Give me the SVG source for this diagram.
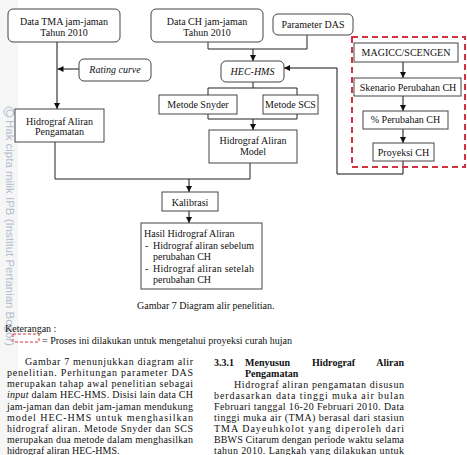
<svg xmlns="http://www.w3.org/2000/svg" width="467" height="455" viewBox="0 0 467 455">
<defs>
<marker id="arr" viewBox="0 0 6 6" refX="6" refY="3" markerWidth="6" markerHeight="6" markerUnits="userSpaceOnUse" orient="auto"><path d="M0,0 L6,3 L0,6 z" fill="#111"/></marker>
<style>
.box{fill:#fff;stroke:#444;stroke-width:1}
.t{font-family:"Liberation Serif","Times New Roman",serif;font-size:10px;fill:#111}
.c{text-anchor:middle}
.i{font-style:italic}
.b{font-weight:bold}
.ln{fill:none;stroke:#222;stroke-width:1}
.ar{fill:none;stroke:#111;stroke-width:1;marker-end:url(#arr)}
.red{fill:none;stroke:#d3323f;stroke-width:2;stroke-dasharray:6,4}
.wm{font-family:"Liberation Sans",Arial,sans-serif;font-size:10px;fill:#b3bdd0}
</style>
</defs>
<rect width="467" height="455" fill="#fff"/>
<rect x="0" y="0" width="18" height="455" fill="#f6f6f6"/>
<g id="watermark">
<circle cx="9" cy="112" r="5" fill="none" stroke="#b3bdd0" stroke-width="1"/>
<text class="wm" transform="translate(5.5,109) rotate(90)" font-size="7">C</text>
<text class="wm" transform="translate(5.5,120) rotate(90)" textLength="226" lengthAdjust="spacingAndGlyphs">Hak cipta milik IPB (Institut Pertanian Bogor)</text>
</g>

<g id="connectors">
<line class="ar" x1="57" y1="42" x2="57" y2="109"/>
<line class="ar" x1="79" y1="69" x2="57.5" y2="69"/>
<polyline class="ln" points="208,42 208,49 307,49 307,35"/>
<line class="ar" x1="253" y1="49" x2="253" y2="61"/>
<line class="ln" x1="253" y1="82" x2="253" y2="88"/>
<polyline class="ln" points="208,95 208,88 297,88 297,95"/>
<polyline class="ln" points="208,114 208,119 297,119 297,114"/>
<line class="ar" x1="253" y1="119" x2="253" y2="130"/>
<polyline class="ln" points="250,163 250,179 55,179 55,142"/>
<line class="ar" x1="189" y1="179" x2="189" y2="192"/>
<line class="ar" x1="189" y1="211" x2="189" y2="223"/>
<polyline class="ar" points="403,161 403,174 337,174 337,68 284,68"/>
<line class="ar" x1="403" y1="62" x2="403" y2="78"/>
<line class="ar" x1="403" y1="96" x2="403" y2="111"/>
<line class="ar" x1="403" y1="129" x2="403" y2="143"/>
</g>

<g id="region-proyeksi">
<rect class="red" x="352" y="37" width="113" height="130"/>
</g>

<g id="n-data-tma">
<rect class="box" x="8" y="9" width="112" height="33" rx="5"/>
<text class="t c" x="64" y="24.5">Data TMA jam-jaman</text>
<text class="t c" x="64" y="35.5">Tahun 2010</text>
</g>
<g id="n-rating-curve">
<rect class="box" x="79" y="59" width="72" height="22" rx="5"/>
<text class="t c i" x="115" y="72.5">Rating curve</text>
</g>
<g id="n-hidrograf-pengamatan">
<rect class="box" x="15" y="109" width="89" height="33"/>
<text class="t c" x="59.5" y="124.5">Hidrograf Aliran</text>
<text class="t c" x="59.5" y="135">Pengamatan</text>
</g>
<g id="n-data-ch">
<rect class="box" x="151" y="9" width="112" height="33" rx="5"/>
<text class="t c" x="207" y="24.5">Data CH jam-jaman</text>
<text class="t c" x="207" y="35.5">Tahun 2010</text>
</g>
<g id="n-parameter-das">
<rect class="box" x="273" y="14" width="80" height="21" rx="5"/>
<text class="t c" x="313" y="27.5">Parameter DAS</text>
</g>
<g id="n-hec-hms">
<rect class="box" x="221" y="61" width="63" height="21" rx="5"/>
<text class="t c i" x="252.5" y="75">HEC-HMS</text>
</g>
<g id="n-snyder">
<rect class="box" x="159" y="95" width="78" height="19"/>
<text class="t c" x="198" y="108">Metode Snyder</text>
</g>
<g id="n-scs">
<rect class="box" x="263" y="95" width="55" height="19"/>
<text class="t c" x="290.5" y="108">Metode SCS</text>
</g>
<g id="n-hidrograf-model">
<rect class="box" x="209" y="130" width="88" height="33"/>
<text class="t c" x="253" y="143.5">Hidrograf Aliran</text>
<text class="t c" x="253" y="155">Model</text>
</g>
<g id="n-kalibrasi">
<rect class="box" x="162" y="192" width="56" height="19"/>
<text class="t c" x="190" y="205.5">Kalibrasi</text>
</g>
<g id="n-hasil">
<rect class="box" x="141" y="223" width="121" height="66"/>
<text class="t" x="144" y="237">Hasil Hidrograf Aliran</text>
<text class="t" x="145" y="248.5">-</text>
<text class="t" x="153" y="248.5" textLength="101" lengthAdjust="spacing">Hidrograf aliran sebelum</text>
<text class="t" x="153" y="260">perubahan CH</text>
<text class="t" x="145" y="271.5">-</text>
<text class="t" x="153" y="271.5" textLength="101" lengthAdjust="spacing">Hidrograf aliran setelah</text>
<text class="t" x="153" y="283">perubahan CH</text>
</g>
<g id="n-magicc">
<rect class="box" x="354" y="43" width="104" height="19"/>
<text class="t c" x="406" y="56">MAGICC/SCENGEN</text>
</g>
<g id="n-skenario">
<rect class="box" x="354" y="78" width="107" height="18"/>
<text class="t c" x="408" y="90.5">Skenario Perubahan CH</text>
</g>
<g id="n-persen">
<rect class="box" x="363" y="111" width="85" height="18"/>
<text class="t c" x="405.5" y="123">% Perubahan CH</text>
</g>
<g id="n-proyeksi">
<rect class="box" x="373" y="143" width="61" height="18"/>
<text class="t c" x="403.5" y="156">Proyeksi CH</text>
</g>

<g id="caption">
<text class="t" x="137" y="308.5">Gambar 7 Diagram alir penelitian.</text>
</g>

<g id="legend">
<text class="t" x="5" y="331.5">Keterangan :</text>
<rect x="13" y="334" width="26" height="8" fill="none" stroke="#d3323f" stroke-width="1" stroke-dasharray="3,2"/>
<text class="t" x="42" y="343.5">= Proses ini dilakukan untuk mengetahui proyeksi curah hujan</text>
</g>

<g id="body-left">
<text class="t" x="25" y="365" textLength="168" lengthAdjust="spacing">Gambar 7 menunjukkan diagram alir</text>
<text class="t" x="7" y="376" textLength="186" lengthAdjust="spacing">penelitian. Perhitungan parameter DAS</text>
<text class="t" x="7" y="387" textLength="186" lengthAdjust="spacing">merupakan tahap awal penelitian sebagai</text>
<text class="t" x="7" y="398" textLength="186" lengthAdjust="spacing"><tspan class="i">input</tspan> dalam HEC-HMS. Disisi lain data CH</text>
<text class="t" x="7" y="409.5" textLength="186" lengthAdjust="spacing">jam-jaman dan debit jam-jaman mendukung</text>
<text class="t" x="7" y="420.5" textLength="186" lengthAdjust="spacing">model HEC-HMS untuk menghasilkan</text>
<text class="t" x="7" y="431.5" textLength="186" lengthAdjust="spacing">hidrograf aliran. Metode Snyder dan SCS</text>
<text class="t" x="7" y="442.5" textLength="186" lengthAdjust="spacing">merupakan dua metode dalam menghasilkan</text>
<text class="t" x="7" y="453.5">hidrograf aliran HEC-HMS.</text>
</g>

<g id="body-right">
<text class="t b" x="214" y="366">3.3.1</text>
<text class="t b" x="245" y="366">Menyusun</text>
<text class="t b" x="312" y="366">Hidrograf</text>
<text class="t b" x="404" y="366" text-anchor="end">Aliran</text>
<text class="t b" x="245" y="376.5">Pengamatan</text>
<text class="t" x="234" y="387.5" textLength="170" lengthAdjust="spacing">Hidrograf aliran pengamatan disusun</text>
<text class="t" x="214" y="398.5" textLength="190" lengthAdjust="spacing">berdasarkan data tinggi muka air bulan</text>
<text class="t" x="214" y="409.5" textLength="190" lengthAdjust="spacing">Februari tanggal 16-20 Februari 2010. Data</text>
<text class="t" x="214" y="420.5" textLength="190" lengthAdjust="spacing">tinggi muka air (TMA) berasal dari stasiun</text>
<text class="t" x="214" y="431.5" textLength="190" lengthAdjust="spacing">TMA Dayeuhkolot yang diperoleh dari</text>
<text class="t" x="214" y="442.5" textLength="190" lengthAdjust="spacing">BBWS Citarum dengan periode waktu selama</text>
<text class="t" x="214" y="453.5" textLength="190" lengthAdjust="spacing">tahun 2010. Langkah yang dilakukan untuk</text>
</g>
</svg>
